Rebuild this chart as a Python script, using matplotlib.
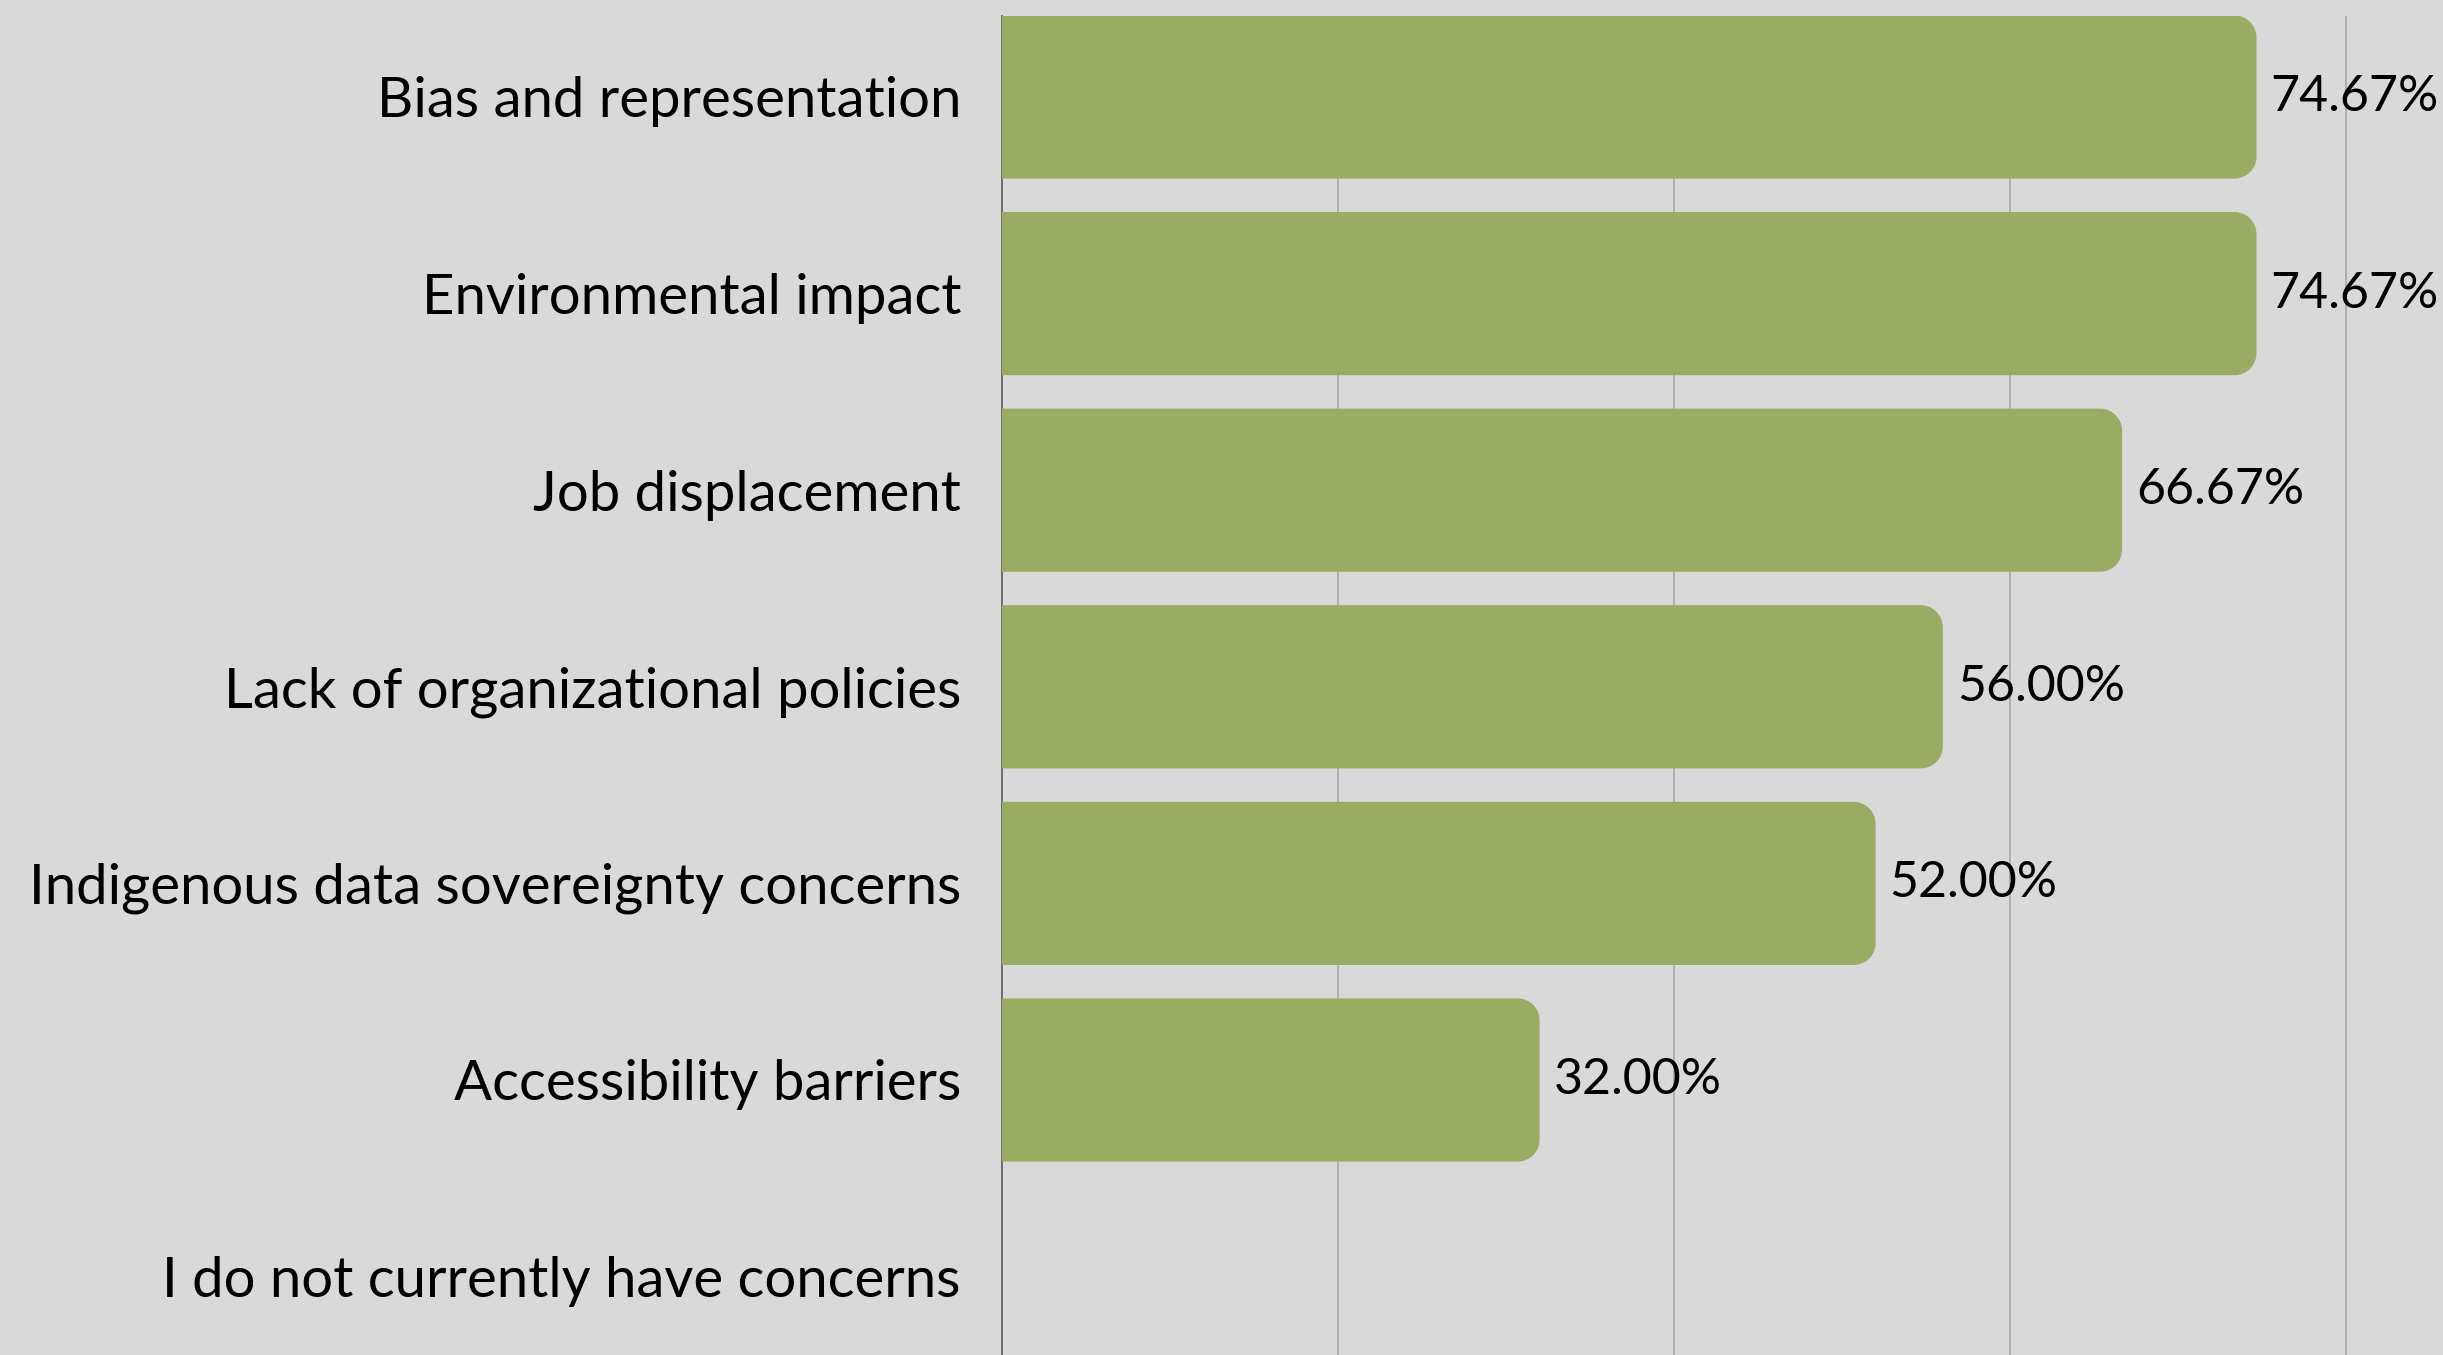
import matplotlib
matplotlib.use("Agg")
import matplotlib.pyplot as plt
from matplotlib.patches import PathPatch
from matplotlib.path import Path

categories = [
    "Bias and representation",
    "Environmental impact",
    "Job displacement",
    "Lack of organizational policies",
    "Indigenous data sovereignty concerns",
    "Accessibility barriers",
    "I do not currently have concerns",
]
values = [74.67, 74.67, 66.67, 56.00, 52.00, 32.00, 0.0]
value_labels = ["74.67%", "74.67%", "66.67%", "56.00%", "52.00%", "32.00%", ""]
xticks = [0, 20, 40, 60, 80]

BG = "#d9d9d9"
BAR = "#9aab64"
FONT = ["Lato", "DejaVu Sans"]

W, H, DPI = 2443, 1355, 100
fig = plt.figure(figsize=(W / DPI, H / DPI), dpi=DPI, facecolor=BG)
left_px, right_px, top_px, bottom_px = 1002, 2443, 16, 1355
ax = fig.add_axes([left_px / W, 1 - bottom_px / H, (right_px - left_px) / W, (bottom_px - top_px) / H])
ax.set_facecolor(BG)

px_per_x = 16.8
pitch = 196.6
xmax = (right_px - left_px) / px_per_x
ax.set_xlim(0, xmax)
first_center = 97
ytop = -(first_center - top_px) / pitch
ybot = (bottom_px - first_center) / pitch
ax.set_ylim(ybot, ytop)

ypos = list(range(len(categories)))
bar_h = 0.83
bars = ax.barh(ypos, values, height=bar_h, color=BAR, zorder=3)


def rounded_right(x0, y0, w, h, rx, ry):
    k = 0.5523
    x1 = x0 + w
    y1 = y0 + h
    verts = [
        (x0, y0),
        (x1 - rx, y0),
        (x1 - rx + k * rx, y0), (x1, y0 + ry - k * ry), (x1, y0 + ry),
        (x1, y1 - ry),
        (x1, y1 - ry + k * ry), (x1 - rx + k * rx, y1), (x1 - rx, y1),
        (x0, y1),
        (x0, y0),
    ]
    codes = [Path.MOVETO, Path.LINETO,
             Path.CURVE4, Path.CURVE4, Path.CURVE4,
             Path.LINETO,
             Path.CURVE4, Path.CURVE4, Path.CURVE4,
             Path.LINETO, Path.CLOSEPOLY]
    return Path(verts, codes)


radius_px = 22
r_x = radius_px / px_per_x
r_y = radius_px / pitch
for b in bars:
    x0, y0 = b.get_x(), b.get_y()
    w, h = b.get_width(), b.get_height()
    b.set_visible(False)
    if w <= 0:
        continue
    ax.add_patch(PathPatch(rounded_right(x0, y0, w, h, min(r_x, w), r_y),
                           facecolor=BAR, edgecolor="none", zorder=3))

ax.bar_label(bars, labels=value_labels, padding=14 * 72 / DPI, fontsize=36, family=FONT, color="black")

ax.set_xticks(xticks)
ax.set_xticklabels([])
ax.tick_params(axis="x", length=0)
ax.grid(axis="x", color="#a8a8a8", linewidth=1.2, zorder=0)
ax.set_axisbelow(True)

ax.set_yticks(ypos)
ax.set_yticklabels(categories, fontsize=40.5, family=FONT, color="black")
ax.tick_params(axis="y", length=0, pad=41 * 72 / DPI)

for s in ["top", "right", "bottom"]:
    ax.spines[s].set_visible(False)
ax.spines["left"].set_color("#666666")
ax.spines["left"].set_linewidth(1.3)
ax.spines["left"].set_zorder(2)

fig.savefig("out.png", dpi=DPI, facecolor=BG)
